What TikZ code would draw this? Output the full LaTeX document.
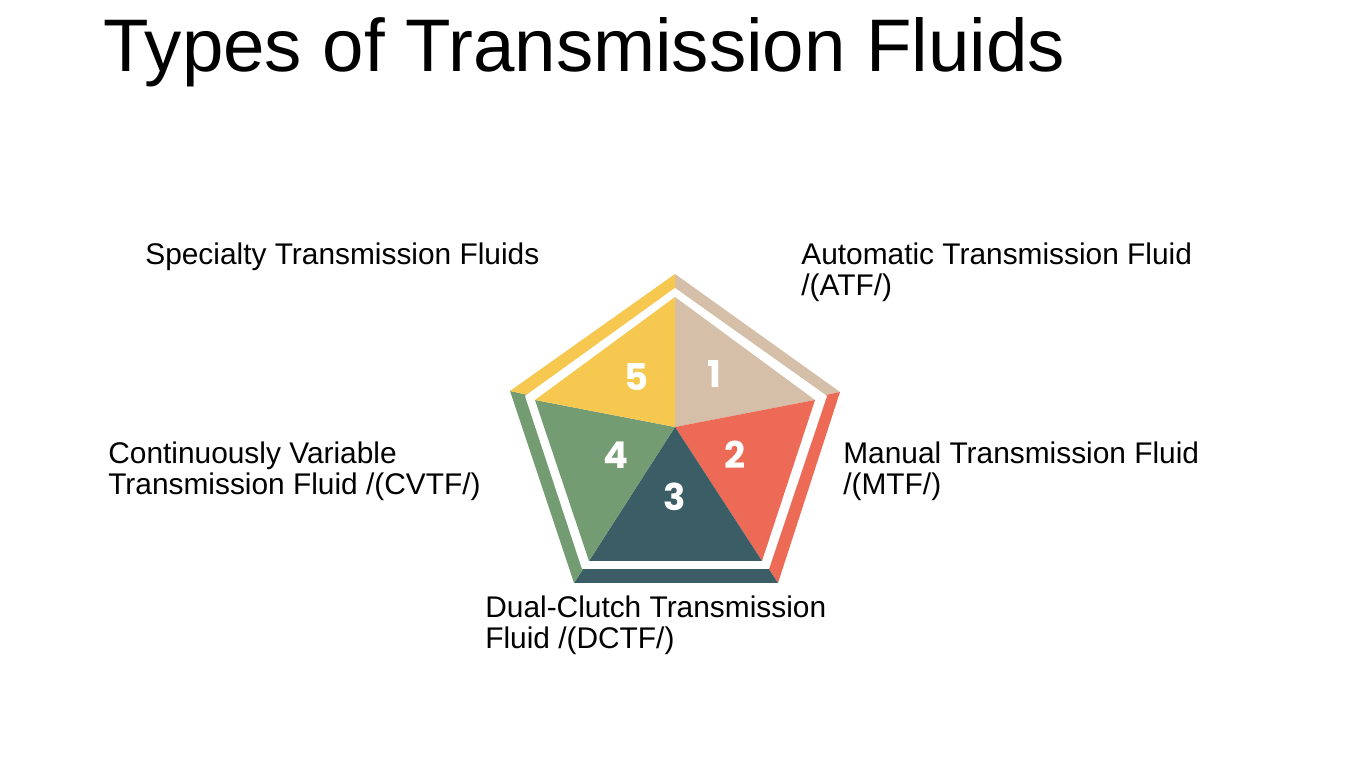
\documentclass[tikz,border=0pt]{standalone}
\usepackage{fontspec}
\setmainfont{Liberation Sans}
\newfontfamily\numfont{Poppins}
\definecolor{cyel}{HTML}{F7C84F}
\definecolor{cbeige}{HTML}{D5BFA9}
\definecolor{cred}{HTML}{EC6A56}
\definecolor{cteal}{HTML}{3A5D66}
\definecolor{cgreen}{HTML}{739C73}
\tikzset{
  lbl/.style={anchor=north west, inner sep=0pt, font=\fontsize{17}{17.5}\selectfont, align=left},
  num/.style={text=white, font=\numfont\bfseries\fontsize{21}{21}\selectfont}
}

\begin{document}
\begin{tikzpicture}[x=0.02cm, y=-0.02cm]
    \useasboundingbox (0, 0) rectangle (1350, 759);

    % center and outer corners
    \coordinate (c) at (675, 427);
    \coordinate (o1) at (675, 274);
    \coordinate (o2) at (840, 392);
    \coordinate (o3) at (778, 583);
    \coordinate (o4) at (574, 583);
    \coordinate (o5) at (510, 391);

    % white band corners
    \coordinate (w1) at (675, 288);
    \coordinate (w2) at (827, 396);
    \coordinate (w3) at (769, 569);
    \coordinate (w4) at (582, 569);
    \coordinate (w5) at (525, 396);

    % inner corners
    \coordinate (i1) at (675, 297);
    \coordinate (i2) at (815, 400);
    \coordinate (i3) at (762, 561);
    \coordinate (i4) at (589, 561);
    \coordinate (i5) at (535, 400);

    \fill[cbeige] (c) -- (o1) -- (o2) -- cycle;
    \fill[cred] (c) -- (o2) -- (o3) -- cycle;
    \fill[cteal] (c) -- (o3) -- (o4) -- cycle;
    \fill[cgreen] (c) -- (o4) -- (o5) -- cycle;
    \fill[cyel] (c) -- (o5) -- (o1) -- cycle;

    \fill[white] (w1) -- (w2) -- (w3) -- (w4) -- (w5) -- cycle;

    \fill[cbeige] (c) -- (i1) -- (i2) -- cycle;
    \fill[cred] (c) -- (i2) -- (i3) -- cycle;
    \fill[cteal] (c) -- (i3) -- (i4) -- cycle;
    \fill[cgreen] (c) -- (i4) -- (i5) -- cycle;
    \fill[cyel] (c) -- (i5) -- (i1) -- cycle;

    \node[num] (n1) at (714, 374) {1};
    \node[num] (n2) at (735, 455) {2};
    \node[num] (n3) at (675, 497) {3};
    \node[num] (n4) at (616, 455) {4};
    \node[num] (n5) at (636, 377) {5};

    \node[anchor=base west, inner sep=0pt, font=\fontsize{42.4}{42}\selectfont] (title) at (103, 72) {Types of Transmission Fluids};

    \node[lbl] (spec) at (145, 243) {Specialty Transmission Fluids};
    \node[lbl] (atf) at (801, 243) {Automatic Transmission Fluid\\/(ATF/)};
    \node[lbl] (mtf) at (843, 442) {Manual Transmission Fluid\\/(MTF/)};
    \node[lbl] (cvtf) at (108, 442) {Continuously Variable\\Transmission Fluid /(CVTF/)};
    \node[lbl] (dctf) at (485, 596) {Dual-Clutch Transmission\\Fluid /(DCTF/)};
\end{tikzpicture}
\end{document}
